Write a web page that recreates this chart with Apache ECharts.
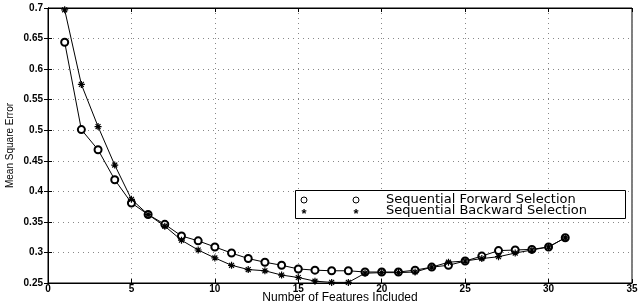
<!DOCTYPE html>
<html>
<head>
<meta charset="utf-8">
<script src="https://cdn.jsdelivr.net/npm/echarts@6/dist/echarts.min.js"></script>
<style>
  html, body { margin: 0; padding: 0; background: #fff; }
  #chart { width: 642px; height: 305px; }
</style>
</head>
<body>
<div id="chart"></div>
<script>
  // number of features (x)
  var features = [1, 2, 3, 4, 5, 6, 7, 8, 9, 10, 11, 12, 13, 14, 15, 16, 17, 18, 19, 20, 21, 22, 23, 24, 25, 26, 27, 28, 29, 30, 31];
  var forwardMSE = [0.644, 0.501, 0.468, 0.419, 0.381, 0.362, 0.346, 0.327, 0.319, 0.309, 0.299, 0.290, 0.284, 0.279, 0.273,
    0.271, 0.270, 0.270, 0.268, 0.268, 0.268, 0.271, 0.276, 0.279, 0.286, 0.294, 0.303, 0.304, 0.305, 0.309, 0.324];
  var backwardMSE = [0.697, 0.575, 0.506, 0.443, 0.387, 0.362, 0.343, 0.320, 0.304, 0.291, 0.279, 0.272, 0.270, 0.263, 0.259,
    0.253, 0.251, 0.251, 0.266, 0.267, 0.267, 0.268, 0.276, 0.284, 0.286, 0.290, 0.293, 0.299, 0.304, 0.309, 0.324];
  var seriesNames = ['Sequential Forward Selection', 'Sequential Backward Selection'];

  var star = 'path://M0,-5L0,5M-5,0L5,0M-3.5,-3.5L3.5,3.5M-3.5,3.5L3.5,-3.5';
  var font = 'Liberation Sans, Arial, sans-serif';
  var narrowFont = 'Liberation Sans Narrow, Liberation Sans, sans-serif';
  var legendFont = 'DejaVu Sans, sans-serif';

  function pairs(ys) {
    return features.map(function (x, i) { return [x, ys[i]]; });
  }

  var myChart = echarts.init(document.getElementById('chart'));
  myChart.setOption({
    animation: false,
    backgroundColor: '#fff',
    grid: { left: 48, right: 10, top: 8, bottom: 22, outerBoundsMode: 'none', containLabel: false,
      show: true, borderColor: '#000', borderWidth: 1 },
    xAxis: [{
      type: 'value', min: 0, max: 35, interval: 5,
      name: 'Number of Features Included', nameLocation: 'middle', nameGap: 9, nameMoveOverlap: false,
      nameTextStyle: { fontFamily: font, fontSize: 12, color: '#000', lineHeight: 12 },
      axisLine: { lineStyle: { color: '#000' } },
      axisTick: { inside: true, length: 4, lineStyle: { color: '#000' } },
      axisLabel: { fontFamily: font, fontSize: 10, fontWeight: 'bold', color: '#000', margin: 1 },
      splitLine: { show: true, lineStyle: { type: [1, 4], color: '#888' } }
    }, {
      type: 'value', position: 'top', min: 0, max: 35, interval: 5,
      axisLine: { lineStyle: { color: '#000' } },
      axisTick: { inside: true, length: 4, lineStyle: { color: '#000' } },
      axisLabel: { show: false }, splitLine: { show: false }
    }],
    yAxis: [{
      type: 'value', min: 0.25, max: 0.7, interval: 0.05,
      name: 'Mean Square Error', nameLocation: 'middle', nameGap: 33, nameRotate: 90, nameMoveOverlap: false,
      nameTextStyle: { fontFamily: narrowFont, fontSize: 10, color: '#000' },
      axisLine: { show: true, lineStyle: { color: '#000' } },
      axisTick: { show: true, inside: true, length: 4, lineStyle: { color: '#000' } },
      axisLabel: { fontFamily: font, fontSize: 10, fontWeight: 'bold', color: '#000', margin: 5 },
      splitLine: { show: true, lineStyle: { type: [1, 4], color: '#888' } }
    }, {
      type: 'value', position: 'right', min: 0.25, max: 0.7, interval: 0.05,
      axisLine: { show: true, lineStyle: { color: '#000' } },
      axisTick: { show: true, inside: true, length: 4, lineStyle: { color: '#000' } },
      axisLabel: { show: false }, splitLine: { show: false }
    }],
    series: [{
      name: seriesNames[0],
      type: 'line',
      data: pairs(forwardMSE),
      symbol: 'emptyCircle',
      symbolSize: 7,
      showAllSymbol: true,
      lineStyle: { color: '#000', width: 1 },
      itemStyle: { color: '#000', borderColor: '#000', borderWidth: 0.8 }
    }, {
      name: seriesNames[1],
      type: 'line',
      data: pairs(backwardMSE),
      symbol: star,
      symbolSize: 7,
      showAllSymbol: true,
      lineStyle: { color: '#000', width: 1 },
      itemStyle: { color: '#000', borderColor: '#000', borderWidth: 1.2 }
    }],
    graphic: [
      { type: 'rect', left: 295, top: 190, shape: { width: 330, height: 28 },
        style: { fill: '#fff', stroke: '#000', lineWidth: 1 }, z: 10 },
      { type: 'circle', shape: { cx: 304, cy: 200, r: 3 }, style: { fill: '#fff', stroke: '#000' }, z: 11 },
      { type: 'circle', shape: { cx: 356, cy: 200, r: 3 }, style: { fill: '#fff', stroke: '#000' }, z: 11 },
      { type: 'text', x: 304, y: 214, style: { text: '*', font: 'bold 13px ' + font, fill: '#000',
        align: 'center', verticalAlign: 'middle' }, z: 11 },
      { type: 'text', x: 356, y: 214, style: { text: '*', font: 'bold 13px ' + font, fill: '#000',
        align: 'center', verticalAlign: 'middle' }, z: 11 },
      { type: 'text', x: 386, y: 200, style: { text: seriesNames[0], font: '13px ' + legendFont, fill: '#000',
        verticalAlign: 'middle' }, z: 11 },
      { type: 'text', x: 386, y: 211, style: { text: seriesNames[1], font: '13px ' + legendFont, fill: '#000',
        verticalAlign: 'middle' }, z: 11 }
    ]
  });
</script>
</body>
</html>
